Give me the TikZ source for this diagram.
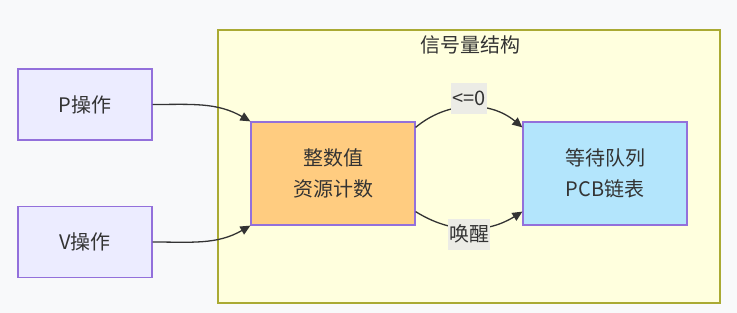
\documentclass[tikz,border=0pt]{standalone}
\usepackage{fontspec}
\setmainfont{Noto Sans CJK SC}
\usetikzlibrary{arrows.meta}
\definecolor{bgc}{HTML}{F8F9FA}
\definecolor{clfill}{HTML}{FFFFDE}
\definecolor{cldraw}{HTML}{AAAA33}
\definecolor{ndfill}{HTML}{ECECFF}
\definecolor{nddraw}{HTML}{9370DB}
\definecolor{orfill}{HTML}{FFCC80}
\definecolor{blfill}{HTML}{B3E5FC}
\definecolor{ink}{HTML}{333333}
\definecolor{lblfill}{HTML}{ECECE6}
\tikzset{
  base/.style={draw=nddraw, line width=1.2pt, text=ink, font=\fontsize{20pt}{31pt}\selectfont, align=center, inner sep=0pt},
  opbox/.style={base, fill=ndfill, minimum width=134pt, minimum height=71pt},
  bigbox/.style={base, minimum width=164pt, minimum height=103pt},
  edge/.style={draw=ink, line width=1.3pt, -{Triangle[length=10pt,width=9pt]}},
  lbl/.style={fill=lblfill, text=ink, font=\fontsize{20pt}{24pt}\selectfont, inner xsep=1pt, inner ysep=0pt, minimum height=31pt}
}
\begin{document}
\begin{tikzpicture}[x=1pt,y=-1pt]
\fill[bgc] (0,0) rectangle (737,313);
\useasboundingbox (0,0) rectangle (737,313);
\node[draw=cldraw, fill=clfill, line width=1.2pt, minimum width=502pt, minimum height=273pt, inner sep=0pt] (cluster) at (469,166.5) {};
\node[text=ink, font=\fontsize{20pt}{24pt}\selectfont] (title) at (470,45) {信号量结构};
\node[opbox] (p) at (85,104.5) {P操作};
\node[opbox] (v) at (85,242) {V操作};
\node[bigbox, fill=orfill] (int) at (333,173.5) {整数值\\资源计数};
\node[bigbox, fill=blfill] (q) at (605,173.5) {等待队列\\PCB链表};
\draw[edge] (p.east) to[out=0,in=150] (int.north west);
\draw[edge] (v.east) to[out=0,in=-150] (int.south west);
\draw[edge] ([yshift=-6pt]int.north east) to[out=40,in=140] node[lbl, pos=0.5, yshift=9pt] (l1) {<=0} ([yshift=-6pt]q.north west);
\draw[edge] ([yshift=14pt]int.south east) to[out=-32,in=-148] node[lbl, pos=0.5, yshift=-6pt] (l2) {唤醒} ([yshift=14pt]q.south west);
\end{tikzpicture}
\end{document}
